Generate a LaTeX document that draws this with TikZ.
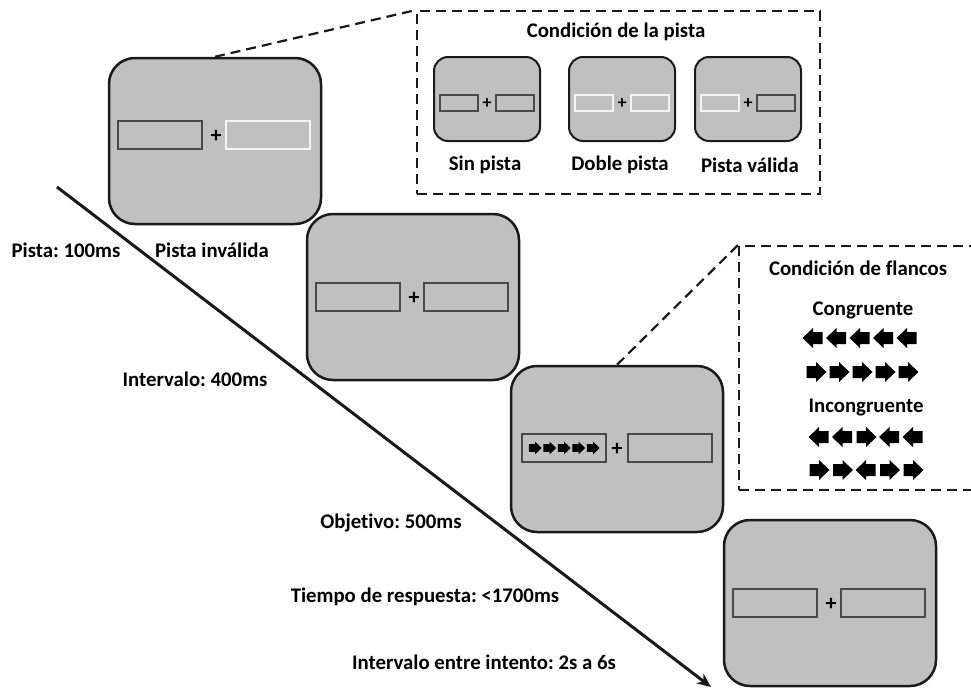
\documentclass[tikz,border=0pt]{standalone}
\usepackage{fontspec}
\setmainfont{Carlito}[Ligatures=NoCommon]
\usetikzlibrary{arrows.meta}
\frenchspacing
\definecolor{scr}{HTML}{C0C0C0}
\definecolor{edge}{HTML}{1A1A1A}
\definecolor{rimg}{HTML}{4A4A4A}
\definecolor{rimw}{HTML}{F4F4F4}
\tikzset{
 screen/.style={draw=edge, fill=scr, line width=2.5pt, rounded corners=26pt, minimum width=212pt, minimum height=166pt, inner sep=0pt},
 mini/.style={draw=edge, fill=scr, line width=2pt, rounded corners=14pt, minimum width=106pt, minimum height=84pt, inner sep=0pt},
 slot/.style={draw=rimg, line width=1.6pt, minimum width=84pt, minimum height=28pt, inner sep=0pt},
 cueslot/.style={slot, draw=rimw},
 minislot/.style={draw=rimg, line width=1.4pt, minimum width=38pt, minimum height=16pt, inner sep=0pt},
 minicue/.style={minislot, draw=rimw},
 lbl/.style={font=\fontsize{20.8}{24}\selectfont\bfseries, inner sep=0pt},
 plus/.style={font=\fontsize{22}{24}\selectfont\bfseries, inner sep=0pt},
 miniplus/.style={font=\fontsize{18}{20}\selectfont\bfseries, inner sep=0pt},
 frame/.style={draw=edge, line width=2.2pt, dash pattern=on 10pt off 6pt},
 lefta/.pic={\fill[black] (-10.5,0) -- (0,-10) -- (0,-6) -- (9.5,-6) -- (9.5,6) -- (0,6) -- (0,10) -- cycle;},
 righta/.pic={\fill[black] (10.5,0) -- (0,-10) -- (0,-6) -- (-9.5,-6) -- (-9.5,6) -- (0,6) -- (0,10) -- cycle;},
}
\begin{document}
\begin{tikzpicture}[x=1pt,y=-1pt]
\useasboundingbox (0,0) rectangle (971,688);
\clip (0,0) rectangle (971,688);
% timeline
\coordinate (t0) at (57,187);
\coordinate (t1) at (711,687);
\draw[line width=3pt, draw=edge, -{Stealth[length=14pt,width=12pt]}] (t0) -- (t1);
% screens
\node[screen] (s1) at (215,141) {};
\node[slot] (s1l) at (160,135) {};
\node[cueslot] (s1r) at (268,135) {};
\node[plus] (s1p) at (216,136) {+};

\node[screen] (s2) at (413,297) {};
\node[slot] (s2l) at (358,297) {};
\node[slot] (s2r) at (466,297) {};
\node[plus] (s2p) at (414,298) {+};

\node[screen] (s3) at (617,449) {};
\node[slot] (s3l) at (564,448) {};
\node[slot] (s3r) at (670,448) {};
\node[plus] (s3p) at (617,449) {+};
\foreach \i in {0,...,4} \pic[scale=0.64] at (535+14.5*\i,448) {righta};

\node[screen] (s4) at (830,603) {};
\node[slot] (s4l) at (775,603) {};
\node[slot] (s4r) at (883,603) {};
\node[plus] (s4p) at (831,604) {+};

% cue condition box
\node[frame, anchor=north west, minimum width=403pt, minimum height=183pt, inner sep=0pt] (cue) at (416,10) {};
\draw[frame] (s1.north) -- (cue.north west);
\node[lbl] (tcue) at (616,32) {Condición de la pista};
\node[mini] (c1) at (487,99) {};
\node[minislot] (c1l) at (459,103) {};
\node[minislot] (c1r) at (515,103) {};
\node[miniplus] (c1p) at (487,104) {+};
\node[mini] (c2) at (622,99) {};
\node[minicue] (c2l) at (594,103) {};
\node[minicue] (c2r) at (650,103) {};
\node[miniplus] (c2p) at (622,104) {+};
\node[mini] (c3) at (748,99) {};
\node[minicue] (c3l) at (720,103) {};
\node[minislot] (c3r) at (776,103) {};
\node[miniplus] (c3p) at (748,104) {+};
\node[lbl] (ln) at (485,165) {Sin pista};
\node[lbl] (ld) at (620,165) {Doble pista};
\node[lbl] (lv) at (750,165) {Pista válida};

% flanker condition box
\node[frame, anchor=north west, minimum width=262pt, minimum height=244pt, inner sep=0pt] (flank) at (738,245) {};
\draw[frame] (s3.north) -- (flank.north west);
\node[lbl] (tfl) at (858,268) {Condición de flancos};
\node[lbl] (lcon) at (863,310) {Congruente};
\node[lbl] (linc) at (866,408) {Incongruente};
\foreach \i in {0,...,4} \pic at (813+23.5*\i,338) {lefta};
\foreach \i in {0,...,4} \pic at (816+23*\i,372) {righta};
\foreach \d [count=\i from 0] in {lefta,lefta,righta,lefta,lefta} \pic at (819+23.5*\i,437) {\d};
\foreach \d [count=\i from 0] in {righta,righta,lefta,righta,righta} \pic at (819+23.5*\i,470) {\d};

% timing labels
\node[lbl] (lcuet) at (66,250) {Pista: 100ms};
\node[lbl] (linv) at (212,250) {Pista inválida};
\node[lbl] (lint) at (195,379) {Intervalo: 400ms};
\node[lbl] (lobj) at (391,523) {Objetivo: 500ms};
\node[lbl] (lrt) at (425,597) {Tiempo de respuesta: <1700ms};
\node[lbl] (liti) at (484,662) {Intervalo entre intento: 2s a 6s};
\end{tikzpicture}
\end{document}
